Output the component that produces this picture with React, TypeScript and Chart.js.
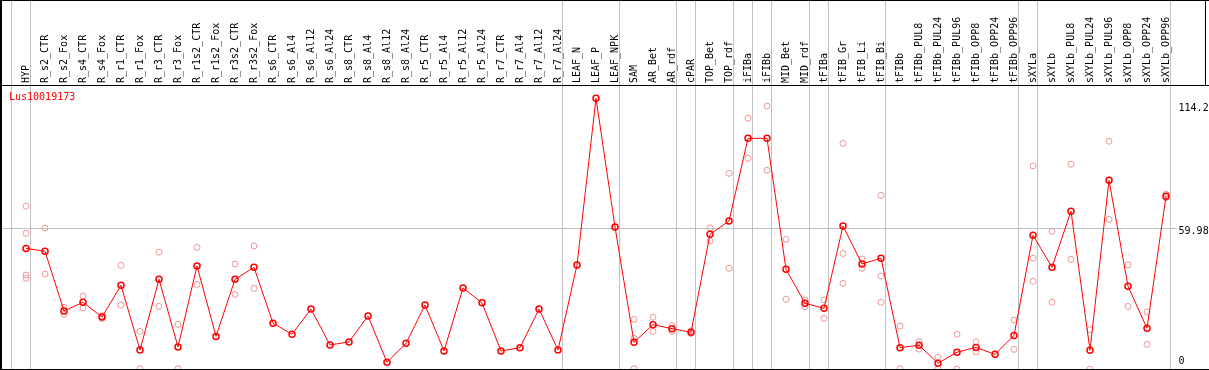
import { useEffect, useRef } from 'react';
import { Chart, registerables } from 'chart.js';

Chart.register(...registerables);

const geneName = 'Lus10019173';

const categories = [
  'HYP', 'R_s2_CTR', 'R_s2_Fox', 'R_s4_CTR', 'R_s4_Fox', 'R_r1_CTR', 'R_r1_Fox', 'R_r3_CTR', 'R_r3_Fox',
  'R_r1s2_CTR', 'R_r1s2_Fox', 'R_r3s2_CTR', 'R_r3s2_Fox', 'R_s6_CTR', 'R_s6_Al4', 'R_s6_Al12', 'R_s6_Al24',
  'R_s8_CTR', 'R_s8_Al4', 'R_s8_Al12', 'R_s8_Al24', 'R_r5_CTR', 'R_r5_Al4', 'R_r5_Al12', 'R_r5_Al24',
  'R_r7_CTR', 'R_r7_Al4', 'R_r7_Al12', 'R_r7_Al24', 'LEAF_N', 'LEAF_P', 'LEAF_NPK', 'SAM', 'AR_Bet', 'AR_rdf',
  'cPAR', 'TOP_Bet', 'TOP_rdf', 'iFIBa', 'iFIBb', 'MID_Bet', 'MID_rdf', 'tFIBa', 'tFIB_Gr', 'tFIB_Li', 'tFIB_Bi',
  'tFIBb', 'tFIBb_PUL8', 'tFIBb_PUL24', 'tFIBb_PUL96', 'tFIBb_OPP8', 'tFIBb_OPP24', 'tFIBb_OPP96',
  'sXYLa', 'sXYLb', 'sXYLb_PUL8', 'sXYLb_PUL24', 'sXYLb_PUL96', 'sXYLb_OPP8', 'sXYLb_OPP24', 'sXYLb_OPP96',
];

const means = [
  51.6, 50.4, 25.5, 29.1, 23.0, 36.2, 9.2, 38.7, 10.5,
  44.3, 14.9, 38.7, 43.7, 20.4, 15.8, 26.3, 11.3,
  12.6, 23.4, 4.1, 12.0, 28.0, 8.8, 35.1, 28.9,
  8.8, 10.2, 26.3, 9.2, 44.7, 114.2, 60.5, 12.4, 19.8, 18.1,
  16.6, 57.5, 63.0, 97.5, 97.5, 42.9, 28.7, 26.6, 60.9, 45.1, 47.5,
  10.2, 11.2, 3.7, 8.3, 10.3, 7.4, 15.3,
  57.1, 43.7, 67.1, 9.1, 80.0, 35.8, 18.3, 73.3,
];

const replicates: number[][] = [
  [69.2, 57.9, 40.5, 39.1], [60.1, 40.9], [27.0, 24.1], [31.7, 26.7], [23.5, 22.4], [44.5, 27.9], [17.0, 1.4], [50.0, 27.4], [19.9, 1.4],
  [52.0, 36.6], [], [45.1, 32.4], [52.6, 34.9], [], [], [], [],
  [], [], [], [], [], [], [], [],
  [], [], [], [], [], [], [], [22.0, 14.1, 1.4], [22.9, 17.0], [19.4, 17.0],
  [17.2, 16.1], [60.2, 54.7], [82.9, 43.3], [105.9, 89.2], [111.0, 84.2], [55.4, 30.4], [30.1, 27.3], [30.1, 22.4], [95.4, 49.5, 37.0], [47.2, 43.3], [73.7, 40.0, 29.1],
  [19.2, 1.4], [12.7, 9.6], [6.2, 1.4], [15.8, 1.2], [12.6, 8.4], [], [21.7, 9.5],
  [86.0, 47.5, 37.9], [58.7, 29.1], [86.7, 47.0], [17.7, 1.2], [96.3, 63.7], [44.7, 27.4], [25.1, 11.6], [74.2, 72.7],
];

// group separators are drawn just after these category indices
const separatorsAfter = [-1, 0, 28, 31, 34, 35, 37, 38, 39, 41, 42, 45, 52, 53, 60];

const yTickValues = [0, 59.98, 114.2];
const yTickLabels = ['0', '59.98', '114.2'];
const referenceLineValue = 59.98;

const FONT = '10px "DejaVu Sans Mono"';

const decorPlugin = {
  id: 'decor',
  beforeDatasetsDraw(chart: any) {
    const { ctx, chartArea, scales } = chart;
    const x = scales.x;
    const y = scales.y;
    ctx.save();
    ctx.strokeStyle = '#c0c0c0';
    ctx.lineWidth = 1;
    const labelX = x.getPixelForValue(separatorsAfter[separatorsAfter.length - 1] + 0.24) + 8;
    for (const s of separatorsAfter) {
      const px = Math.floor(x.getPixelForValue(s + 0.24)) + 0.5;
      ctx.beginPath();
      ctx.moveTo(px, 0);
      ctx.lineTo(px, chartArea.bottom);
      ctx.stroke();
    }
    const ry = Math.floor(y.getPixelForValue(referenceLineValue)) + 0.5;
    ctx.beginPath();
    ctx.moveTo(0, ry);
    ctx.lineTo(labelX - 2, ry);
    ctx.stroke();

    // category labels in header
    ctx.fillStyle = '#000';
    ctx.font = FONT;
    ctx.textAlign = 'left';
    ctx.textBaseline = 'middle';
    categories.forEach((c, i) => {
      const px = x.getPixelForValue(i);
      ctx.save();
      ctx.translate(px, chartArea.top - 2);
      ctx.rotate(-Math.PI / 2);
      ctx.fillText(c, 0, 0);
      ctx.restore();
    });
    ctx.restore();
  },
  afterDatasetsDraw(chart: any) {
    const { ctx, chartArea, scales, width, height } = chart;
    const x = scales.x;
    const y = scales.y;
    ctx.save();
    ctx.fillStyle = '#000';
    ctx.fillRect(0, 0, width, 1);
    ctx.fillRect(0, chartArea.top, width, 1);
    ctx.fillRect(0, 0, 2, height);
    ctx.fillRect(width - 4, 0, 1, chartArea.top);
    ctx.fillRect(0, height - 1, width, 1);

    ctx.font = FONT;
    ctx.textAlign = 'left';
    ctx.textBaseline = 'middle';
    const labelX = x.getPixelForValue(separatorsAfter[separatorsAfter.length - 1] + 0.24) + 8;
    yTickValues.forEach((v, i) => {
      const py = y.getPixelForValue(v) + 3.5;
      const cy = Math.min(Math.max(py, chartArea.top + 23), chartArea.bottom - 8.5);
      ctx.fillText(yTickLabels[i], labelX, cy);
    });

    ctx.fillStyle = '#ff0000';
    ctx.fillText(geneName, chartArea.left + 9, chartArea.top + 12);
    ctx.restore();
  },
};

export default function App() {
  const ref = useRef<HTMLCanvasElement | null>(null);
  useEffect(() => {
    document.body.style.margin = '0';
    const canvas = ref.current;
    if (!canvas) return;
    const meanPoints = means.map((m, i) => ({ x: i, y: m }));
    const repPoints: { x: number; y: number }[] = [];
    replicates.forEach((arr, i) => arr.forEach((v) => repPoints.push({ x: i, y: v })));
    const spacing = 19;
    const firstOffset = 26;
    const W = 1209;
    const xMin = -firstOffset / spacing;
    const xMax = xMin + W / spacing;
    const chart = new Chart(canvas, {
      type: 'line',
      data: {
        datasets: [
          {
            type: 'line',
            data: meanPoints,
            borderColor: '#ff0000',
            borderWidth: 1,
            pointRadius: 3,
            pointBorderWidth: 1.5,
            pointBorderColor: '#ff0000',
            pointBackgroundColor: 'rgba(0,0,0,0)',
            fill: false,
            tension: 0,
            order: 0,
          },
          {
            type: 'scatter',
            data: repPoints,
            showLine: false,
            borderColor: 'rgb(238,150,150)',
            backgroundColor: 'rgba(0,0,0,0)',
            pointRadius: 3,
            pointBorderWidth: 1,
            order: 1,
          },
        ],
      } as any,
      options: {
        responsive: false,
        animation: false,
        devicePixelRatio: 1,
        layout: { autoPadding: false, padding: { top: 85, left: 0, right: 0, bottom: 0 } },
        plugins: { legend: { display: false }, tooltip: { enabled: false } },
        events: [],
        scales: {
          x: { type: 'linear', display: false, min: xMin, max: xMax },
          y: { type: 'linear', display: false, min: 0.876, max: 119.75 },
        },
      } as any,
      plugins: [decorPlugin],
    });
    return () => chart.destroy();
  }, []);
  return (
    <div style={{ width: 1209, height: 370 }}>
      <canvas ref={ref} width={1209} height={370} style={{ display: 'block' }} />
    </div>
  );
}
